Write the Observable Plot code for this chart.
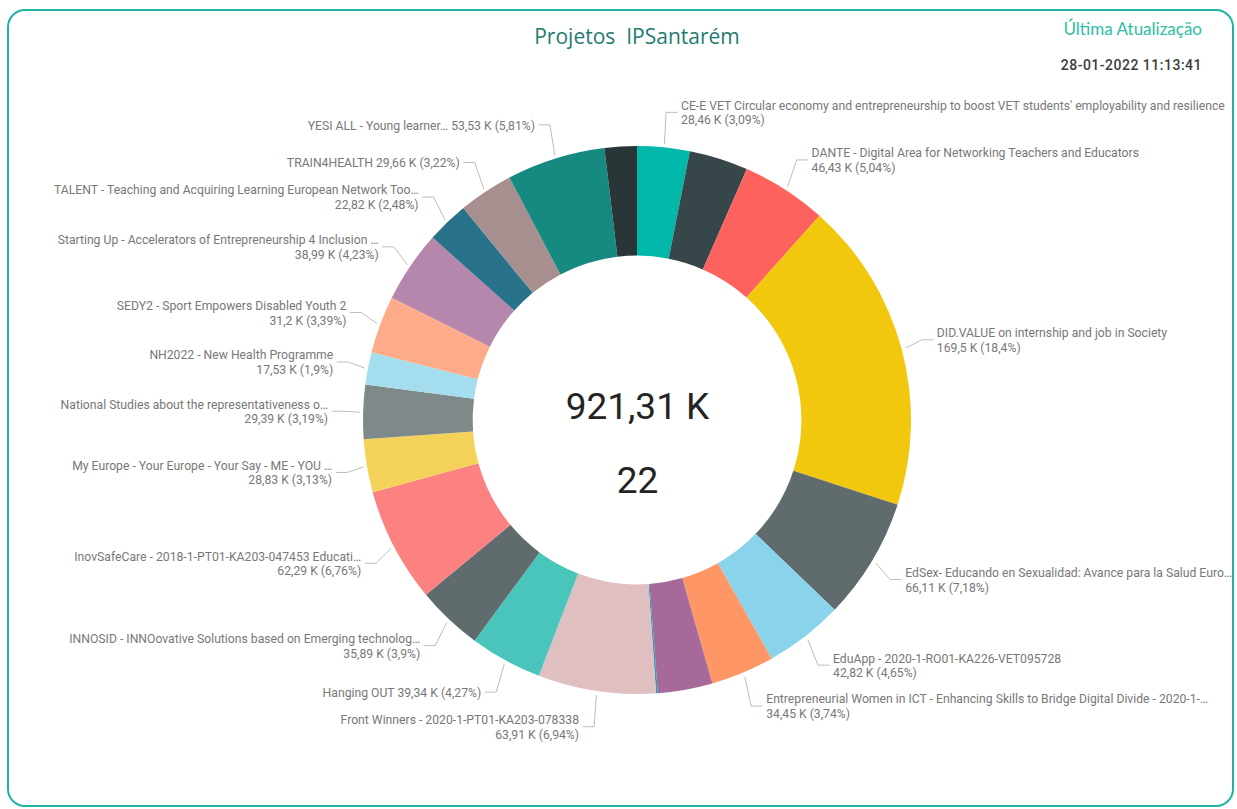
<!DOCTYPE html>
<html>
<head>
<meta charset="utf-8">
<script src="https://cdn.jsdelivr.net/npm/d3@7"></script>
<script src="https://cdn.jsdelivr.net/npm/@observablehq/plot@0.6"></script>
<style>
  body { margin: 0; background: #fff; }
  #wrap { position: relative; width: 1237px; height: 809px; overflow: hidden; background: #fff; }
  #frame { position: absolute; left: 7px; top: 9px; width: 1227px; height: 798px; border: 2px solid #1db5a2; border-radius: 18px; box-sizing: border-box; }
  #chart { position: absolute; left: 0; top: 0; }
  .hdr { position: absolute; white-space: nowrap; }
  #title { left: 437px; width: 400px; top: 22px; text-align: center; font-family: "Open Sans", "Noto Sans", sans-serif; font-size: 21px; color: #1f7b72; }
  #upd { right: 35px; top: 18px; text-align: right; font-family: Lato, "Open Sans", sans-serif; font-size: 17px; color: #2cbea6; }
  #date { right: 35px; top: 57px; text-align: right; font-family: Roboto, sans-serif; font-size: 14px; font-weight: 500; color: #3b3b3b; letter-spacing: 0.5px; }
</style>
</head>
<body>
<div id="wrap">
  <div id="chart"></div>
  <div id="frame"></div>
  <div class="hdr" id="title">Projetos&nbsp;&nbsp;IPSantarém</div>
  <div class="hdr" id="upd">Última Atualização</div>
  <div class="hdr" id="date">28-01-2022 11:13:41</div>
</div>
<script>
// ---------------- data ----------------
const projects = [
  "CE-E VET Circular economy and entrepreneurship to boost VET students' employability and resilience",
  "Projeto C (sem rótulo)",
  "DANTE - Digital Area for Networking Teachers and Educators",
  "DID.VALUE on internship and job in Society",
  "EdSex- Educando en Sexualidad: Avance para la Salud Euro…",
  "EduApp - 2020-1-RO01-KA226-VET095728",
  "Entrepreneurial Women in ICT - Enhancing Skills to Bridge Digital Divide - 2020-1-…",
  "Projeto E (sem rótulo)",
  "Projeto F (sem rótulo)",
  "Front Winners - 2020-1-PT01-KA203-078338",
  "Hanging OUT",
  "INNOSID - INNOovative Solutions based on Emerging technolog…",
  "InovSafeCare - 2018-1-PT01-KA203-047453 Educati…",
  "My Europe - Your Europe - Your Say - ME - YOU …",
  "National Studies about the representativeness o…",
  "NH2022 - New Health Programme",
  "SEDY2 - Sport Empowers Disabled Youth 2",
  "Starting Up - Accelerators of Entrepreneurship 4 Inclusion …",
  "TALENT - Teaching and Acquiring Learning European Network Too…",
  "TRAIN4HEALTH",
  "YESI ALL - Young learner…",
  "Projeto Z (sem rótulo)"
];
// values in thousands (K)
const valuesK = [28.46, 32.0, 46.43, 169.5, 66.11, 42.82, 34.45, 29.7, 0.96, 63.91, 39.34, 35.89, 62.29, 28.83, 29.39, 17.53, 31.2, 38.99, 22.82, 29.66, 53.53, 17.5];
const labelled = [true, false, true, true, true, true, true, false, false, true, true, true, true, true, true, true, true, true, true, true, true, false];
const singleLine = ["Hanging OUT", "TRAIN4HEALTH", "YESI ALL - Young learner…"];
const colors = ["#01B8AA", "#374649", "#FD625E", "#F2C80F", "#5F6B6D", "#8AD4EB", "#FE9666", "#A66999", "#3599B8", "#DFBFBF", "#4AC5BB", "#5F6B6D", "#FB8281", "#F4D25A", "#7F898A", "#A4DDEE", "#FDAB89", "#B687AC", "#28738A", "#A78F8F", "#168980", "#293537"];

// ---------------- layout ----------------
const W = 1237, H = 809, CX = 637, CY = 420, RPX = 274, INNER = 0.6;
const total = d3.sum(valuesK);
const fmt = v => String(+v.toFixed(2)).replace(".", ",");
const arcs = d3.pie().sort(null).value(d => d)(valuesK);

const items = arcs.filter(a => labelled[a.index]).map(a => {
  const t = (a.startAngle + a.endAngle) / 2;
  const s = Math.sin(t), c = Math.cos(t);
  const name = projects[a.index];
  const v = valuesK[a.index];
  const valTxt = `${fmt(v)} K (${fmt(v / total * 100)}%)`;
  const one = singleLine.includes(name);
  return {
    i: a.index, side: s >= 0 ? 1 : -1,
    sx: 1.015 * s, sy: 1.015 * c,
    ex: 1.075 * s, ey: 1.13 * c,
    lines: one ? 1 : 2,
    text: one ? `${name} ${valTxt}` : `${name}\n${valTxt}`
  };
});
// simple collision avoidance per side
for (const side of [1, -1]) {
  const arr = items.filter(d => d.side === side).sort((a, b) => b.ey - a.ey);
  for (let k = 1; k < arr.length; k++) {
    const prev = arr[k - 1], cur = arr[k];
    const need = ((prev.lines + cur.lines) * 15 / 2 + 4) / RPX;
    if (prev.ey - cur.ey < need) cur.ey = prev.ey - need;
  }
}
for (const d of items) {
  d.hx = d.ex + d.side * 11 / RPX;
  d.tx = d.hx + d.side * 4 / RPX;
}
const leaderPts = items.flatMap(d => [
  {i: d.i, x: d.sx, y: d.sy},
  {i: d.i, x: d.ex, y: d.ey},
  {i: d.i, x: d.hx, y: d.ey}
]);

const donut = (index, scales) => {
  const x = scales.x, y = scales.y;
  const cx = x(0), cy = y(0), ro = x(1) - x(0), ri = x(INNER) - x(0);
  const arc = d3.arc().innerRadius(ri).outerRadius(ro);
  const g = d3.create("svg:g").attr("transform", `translate(${cx},${cy})`);
  g.selectAll("path").data(arcs).join("path")
    .attr("d", arc)
    .attr("fill", d => colors[d.index]);
  return g.node();
};

const labelFont = "Roboto, sans-serif";
const labelOpts = {x: "tx", y: "ey", text: "text", lineAnchor: "middle", lineHeight: 1.2, fontSize: 12.2, fontFamily: labelFont, fill: "#787878"};
const plot = Plot.plot({
  width: W, height: H, margin: 0,
  style: {background: "transparent", overflow: "visible"},
  x: {domain: [-CX / RPX, (W - CX) / RPX], axis: null},
  y: {domain: [-(H - CY) / RPX, CY / RPX], axis: null},
  marks: [
    donut,
    Plot.line(leaderPts, {x: "x", y: "y", z: "i", stroke: "#bcbcbc", strokeWidth: 1}),
    Plot.text(items.filter(d => d.side > 0), {...labelOpts, textAnchor: "start"}),
    Plot.text(items.filter(d => d.side < 0), {...labelOpts, textAnchor: "end"}),
    Plot.text([{x: 0, y: 0, t: `${fmt(total)} K`}], {x: "x", y: "y", text: "t", dy: -13, fontSize: 37, fontFamily: "Roboto, sans-serif", fill: "#252423"}),
    Plot.text([{x: 0, y: 0, t: String(valuesK.length)}], {x: "x", y: "y", text: "t", dy: 61, fontSize: 37, fontFamily: "Roboto, sans-serif", fill: "#252423"})
  ]
});
document.getElementById("chart").appendChild(plot);
</script>
</body>
</html>
